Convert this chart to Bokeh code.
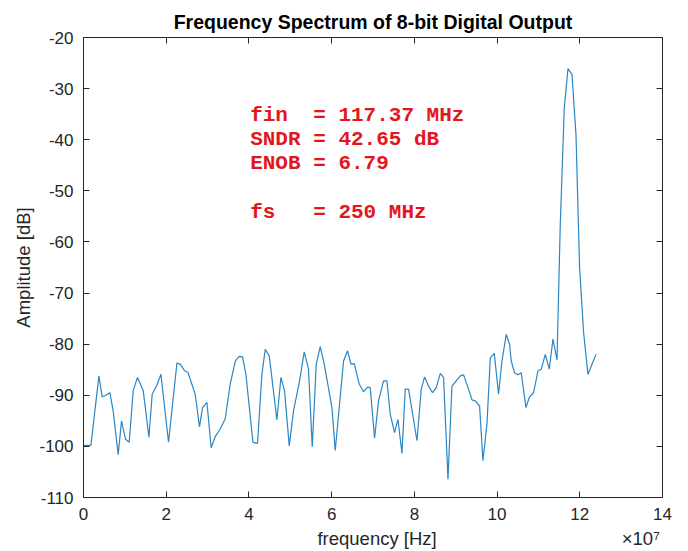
from bokeh.plotting import figure
from bokeh.models import Range1d, FixedTicker, CustomJSTickFormatter, LinearAxis, Label
from bokeh.embed import file_html
from bokeh.resources import INLINE

# ---- data ----
freq_mhz = [
    0.0, 1.8, 3.72, 4.52, 5.18, 6.38, 7.18, 8.39, 9.19, 10.16,
    11.05, 12.02, 13.06, 14.44, 15.82, 16.61, 17.65, 18.72, 20.56, 22.59,
    23.39, 24.43, 25.25, 27.01, 28.05, 28.78, 29.84, 30.88, 31.85, 33.06,
    34.27, 35.48, 36.69, 37.65, 38.45, 39.27, 40.97, 42.08, 43.14, 43.94,
    44.91, 46.77, 47.74, 48.61, 49.75, 50.79, 52.24, 53.37, 54.41, 55.31,
    56.28, 57.24, 58.21, 60.07, 60.87, 62.88, 63.85, 64.67, 65.47, 66.67,
    67.71, 68.68, 69.33, 70.38, 71.34, 72.55, 73.37, 74.17, 75.21, 76.03,
    77.0, 77.8, 78.6, 80.63, 81.67, 82.47, 83.43, 84.4, 85.3, 86.26,
    87.06, 88.13, 89.09, 90.13, 91.1, 91.9, 93.11, 93.93, 94.73, 95.77,
    96.59, 97.56, 98.36, 99.32, 100.36, 101.18, 102.22, 103.02, 103.43, 104.23,
    105.06, 105.85, 106.99, 107.79, 108.83, 109.89, 110.69, 111.66, 112.62, 113.52,
    114.49, 115.28, 116.25, 117.15, 118.11, 119.08, 119.95, 120.92, 121.98, 123.92,
]
amp_db = [
    -99.8, -99.8, -86.2, -90.3, -90.1, -89.5, -93.1, -101.6, -95.0, -98.6,
    -99.2, -89.1, -86.5, -89.1, -98.2, -89.8, -88.2, -85.9, -99.2, -83.7,
    -83.9, -85.2, -85.5, -89.8, -96.2, -92.4, -91.4, -100.3, -98.1, -96.6,
    -94.6, -87.8, -83.3, -82.4, -82.5, -85.9, -99.2, -99.4, -85.9, -81.0,
    -82.3, -94.8, -86.5, -89.1, -99.9, -93.0, -87.2, -81.5, -84.9, -100.1,
    -83.9, -80.5, -83.9, -92.4, -100.8, -83.3, -81.3, -83.9, -83.8, -87.8,
    -89.3, -88.4, -88.5, -98.4, -91.1, -87.2, -87.2, -93.7, -97.3, -94.7,
    -101.4, -88.8, -88.8, -98.9, -88.8, -86.4, -88.2, -89.5, -88.5, -85.7,
    -86.5, -106.4, -88.2, -87.2, -86.2, -86.0, -88.8, -90.9, -91.1, -92.1,
    -102.8, -95.6, -82.7, -81.8, -89.8, -83.3, -78.1, -80.0, -83.3, -85.6,
    -86.0, -85.6, -92.4, -90.4, -89.5, -85.2, -84.9, -82.0, -84.9, -79.0,
    -83.1, -56.6, -33.8, -26.1, -27.2, -39.0, -65.0, -77.7, -85.9, -82.0,
]
x_ticks_e7 = [0, 2, 4, 6, 8, 10, 12, 14]
y_ticks = [-110, -100, -90, -80, -70, -60, -50, -40, -30, -20]
info_lines = ["fin  = 117.37 MHz", "SNDR = 42.65 dB", "ENOB = 6.79", "fs   = 250 MHz"]
info_y = [-35.2, -39.9, -44.6, -54.2]

freq_hz = [f * 1e6 for f in freq_mhz]

AX = "#262626"
FONT = "Liberation Sans"
NB = "\u00a0"

p = figure(width=688, height=551, output_backend="svg", toolbar_location=None,
           x_range=Range1d(0, 14e7), y_range=Range1d(-110, -20),
           min_border_left=83, min_border_right=26, min_border_top=37,
           min_border_bottom=54, x_axis_location=None, y_axis_location=None)
p.background_fill_color = "white"
p.border_fill_color = "white"
p.outline_line_color = None
p.grid.visible = False

p.title.text = "Frequency Spectrum of 8-bit Digital Output"
p.title.align = "center"
p.title.text_font = FONT
p.title.text_font_size = "19.5px"
p.title.text_font_style = "bold"
p.title.text_color = "black"
p.title.standoff = 10

xt = FixedTicker(ticks=[t * 1e7 for t in x_ticks_e7])
yt = FixedTicker(ticks=y_ticks)


def style(ax, labels=True):
    ax.axis_line_color = AX
    ax.axis_line_width = 1
    ax.major_tick_line_color = AX
    ax.major_tick_in = 6
    ax.major_tick_out = 0
    ax.minor_tick_line_color = None
    if labels:
        ax.major_label_text_font = FONT
        ax.major_label_text_font_size = "17px"
        ax.major_label_text_color = AX
    else:
        ax.major_label_text_font_size = "0px"
        ax.major_label_standoff = 0


x_label = NB * 45 + "frequency [Hz]" + NB * 36 + "\u00d710\u2077"
bx = LinearAxis(ticker=xt, axis_label=x_label,
                formatter=CustomJSTickFormatter(code="return (tick/1e7).toFixed(0);"))
style(bx)
bx.major_label_standoff = 10
bx.axis_label_standoff = 5
bx.axis_label_text_font = FONT
bx.axis_label_text_font_size = "18.5px"
bx.axis_label_text_font_style = "normal"
bx.axis_label_text_color = AX
p.add_layout(bx, "below")

ly = LinearAxis(ticker=yt, axis_label="Amplitude [dB]",
                formatter=CustomJSTickFormatter(code="return tick.toFixed(0);"))
style(ly)
ly.major_label_standoff = 10
ly.axis_label_standoff = 2
ly.axis_label_text_font = FONT
ly.axis_label_text_font_size = "18.5px"
ly.axis_label_text_font_style = "normal"
ly.axis_label_text_color = AX
p.add_layout(ly, "left")

tx = LinearAxis(ticker=xt, formatter=CustomJSTickFormatter(code="return '';"))
style(tx, labels=False)
p.add_layout(tx, "above")

ry = LinearAxis(ticker=yt, formatter=CustomJSTickFormatter(code="return '';"))
style(ry, labels=False)
p.add_layout(ry, "right")

p.line(freq_hz, amp_db, line_color="#2a86c4", line_width=1.2)

for txt, yy in zip(info_lines, info_y):
    p.add_layout(Label(x=4.03e7, y=yy, text=txt.replace(" ", NB), text_font="Liberation Mono",
                       text_font_size="21px", text_font_style="bold",
                       text_color="#e3161e", text_baseline="middle", text_align="left"))

open("out.html", "w").write(file_html(p, INLINE))
